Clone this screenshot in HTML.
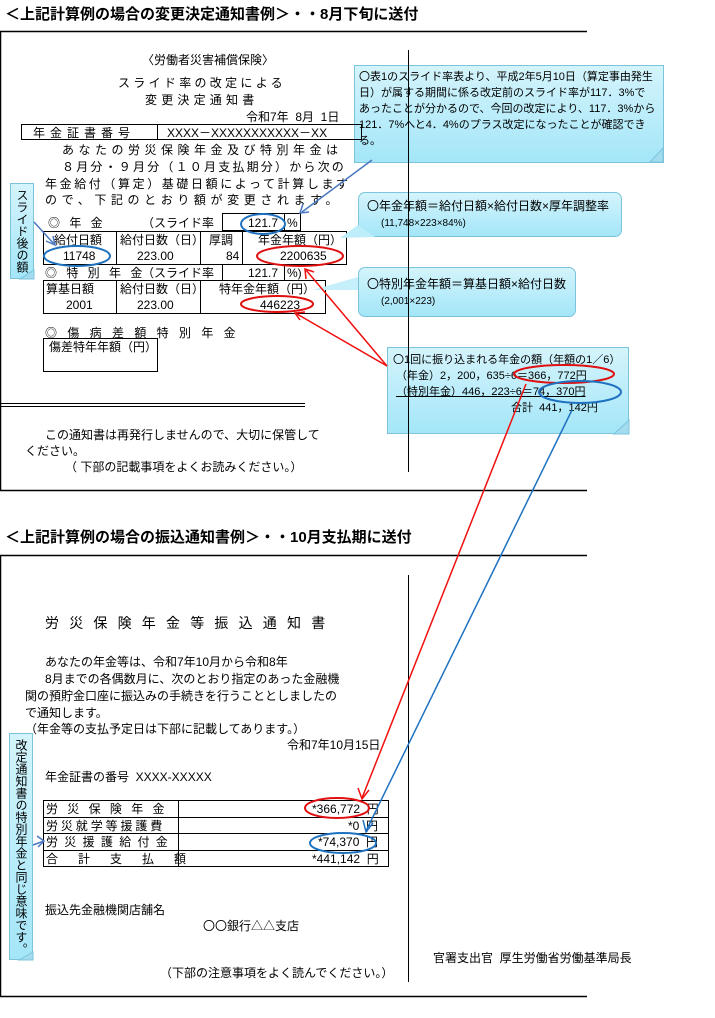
<!DOCTYPE html>
<html><head><meta charset="utf-8">
<style>
body{margin:0;width:715px;height:1018px;position:relative;background:#fff;font-family:"Liberation Sans","Noto Sans CJK JP",sans-serif;color:#000;overflow:hidden}
.t{position:absolute;white-space:nowrap;font-size:12px;line-height:14px}
.b{font-weight:bold;font-size:15px;line-height:18px}
.box{position:absolute;border:1px solid #000;box-sizing:border-box}
.co{position:absolute;box-sizing:border-box;border:1px solid #7cc4dc;background:linear-gradient(#d4f4fc,#a4e6f8);font-size:11px;line-height:16px;padding:2px 4px;white-space:nowrap}
.vt{writing-mode:vertical-rl;font-size:12px;line-height:18px;letter-spacing:0;text-align:center}
svg{position:absolute;left:0;top:0}
</style></head><body>
<svg width="715" height="1018" style="z-index:1">
<g stroke="#000" stroke-width="1.5" fill="none">
<line x1="0" y1="31.5" x2="587" y2="31.5"/>
<line x1="0.5" y1="31" x2="0.5" y2="491"/>
<line x1="0" y1="490.5" x2="587" y2="490.5"/>
<line x1="408.5" y1="50" x2="408.5" y2="472" stroke-width="1"/>
<line x1="0" y1="403.5" x2="305" y2="403.5" stroke-width="1"/>
<line x1="0" y1="406.5" x2="305" y2="406.5" stroke-width="1"/>
<line x1="0" y1="555.5" x2="587" y2="555.5"/>
<line x1="0.5" y1="555" x2="0.5" y2="997"/>
<line x1="0" y1="996.5" x2="587" y2="996.5"/>
<line x1="408.5" y1="575" x2="408.5" y2="982" stroke-width="1"/>
</g>
<g stroke="#000" stroke-width="1" fill="none">
<rect x="21.5" y="124.5" width="340" height="15"/>
<line x1="157.5" y1="124" x2="157.5" y2="140"/>
<rect x="222.5" y="213.5" width="78" height="17"/>
<line x1="284.5" y1="213" x2="284.5" y2="231"/>
<rect x="43.5" y="231.5" width="303" height="33"/>
<line x1="116.5" y1="231" x2="116.5" y2="265"/>
<line x1="200.5" y1="231" x2="200.5" y2="265"/>
<line x1="242.5" y1="231" x2="242.5" y2="265"/>
<line x1="222.5" y1="265" x2="222.5" y2="281"/>
<line x1="284.5" y1="265" x2="284.5" y2="281"/>
<rect x="43.5" y="280.5" width="282" height="33"/>
<line x1="116.5" y1="280" x2="116.5" y2="314"/>
<line x1="200.5" y1="280" x2="200.5" y2="314"/>
<rect x="43.5" y="338.5" width="114" height="33"/>
<rect x="43.5" y="800.5" width="345" height="66"/>
<line x1="43" y1="817.5" x2="388" y2="817.5"/>
<line x1="43" y1="833.5" x2="388" y2="833.5"/>
<line x1="43" y1="850.5" x2="388" y2="850.5"/>
<line x1="178.5" y1="800" x2="178.5" y2="866"/>
</g>
</svg>

<div class="t b" style="left:5px;top:6px">＜上記計算例の場合の変更決定通知書例＞・・8月下旬に送付</div>
<div class="t" style="left:142px;top:53px">〈労働者災害補償保険〉</div>
<div class="t" style="left:118px;top:76px;letter-spacing:3.3px">スライド率の改定による</div>
<div class="t" style="left:145px;top:93px;letter-spacing:4.2px">変更決定通知書</div>
<div class="t" style="left:246px;top:110px">令和7年&nbsp; 8月&nbsp; 1日</div>
<div class="t" style="left:33px;top:126px;letter-spacing:5px">年金証書番号</div>
<div class="t" style="left:167px;top:126px">XXXX－XXXXXXXXXXX－XX</div>
<div class="t" style="left:62px;top:143px;letter-spacing:4.5px">あなたの労災保険年金及び特別年金は</div>
<div class="t" style="left:62px;top:160px;letter-spacing:2.2px">８月分・９月分（１０月支払期分）から次の</div>
<div class="t" style="left:45px;top:177px;letter-spacing:2.6px">年金給付（算定）基礎日額によって計算します</div>
<div class="t" style="left:45px;top:193px;letter-spacing:4.6px">ので、下記のとおり額が変更されます。</div>
<div class="t" style="left:48px;top:216px;letter-spacing:3px">◎ 年 金</div>
<div class="t" style="left:142px;top:216px">（スライド率</div>
<div class="t" style="left:248px;top:216px">121.7</div>
<div class="t" style="left:287px;top:216px">%</div>
<div class="t" style="left:54px;top:233px">給付日額</div>
<div class="t" style="left:120px;top:233px">給付日数（日）</div>
<div class="t" style="left:209px;top:233px">厚調</div>
<div class="t" style="left:258px;top:233px">年金年額（円）</div>
<div class="t" style="left:63px;top:249px">11748</div>
<div class="t" style="left:137px;top:249px">223.00</div>
<div class="t" style="left:226px;top:249px">84</div>
<div class="t" style="left:280px;top:249px">2200635</div>
<div class="t" style="left:45px;top:266px;letter-spacing:3px">◎ 特 別 年 金</div>
<div class="t" style="left:142px;top:266px">（スライド率</div>
<div class="t" style="left:248px;top:266px">121.7</div>
<div class="t" style="left:287px;top:266px">%)</div>
<div class="t" style="left:46px;top:282px">算基日額</div>
<div class="t" style="left:120px;top:282px">給付日数（日）</div>
<div class="t" style="left:219px;top:282px">特年金年額（円）</div>
<div class="t" style="left:66px;top:298px">2001</div>
<div class="t" style="left:137px;top:298px">223.00</div>
<div class="t" style="left:260px;top:298px">446223</div>
<div class="t" style="left:45px;top:326px;letter-spacing:3.5px">◎ 傷 病 差 額 特 別 年 金</div>
<div class="t" style="left:49px;top:340px">傷差特年年額（円）</div>
<div class="t" style="left:45px;top:428px">この通知書は再発行しませんので、大切に保管して</div>
<div class="t" style="left:25px;top:444px">ください。</div>
<div class="t" style="left:65px;top:460px">（ 下部の記載事項をよくお読みください。）</div>

<div class="t b" style="left:5px;top:529px">＜上記計算例の場合の振込通知書例＞・・10月支払期に送付</div>
<div class="t" style="left:45px;top:615px;font-size:14px;line-height:16px;letter-spacing:10.2px">労災保険年金等振込通知書</div>
<div class="t" style="left:45px;top:655px">あなたの年金等は、令和7年10月から令和8年</div>
<div class="t" style="left:45px;top:672px">8月までの各偶数月に、次のとおり指定のあった金融機</div>
<div class="t" style="left:25px;top:689px">関の預貯金口座に振込みの手続きを行うこととしましたの</div>
<div class="t" style="left:25px;top:706px">で通知します。</div>
<div class="t" style="left:25px;top:722px">（年金等の支払予定日は下部に記載してあります。）</div>
<div class="t" style="left:287px;top:738px">令和7年10月15日</div>
<div class="t" style="left:45px;top:770px">年金証書の番号&nbsp; XXXX-XXXXX</div>
<div class="t" style="left:46px;top:802px;letter-spacing:9.3px">労災保険年金</div>
<div class="t" style="left:46px;top:819px;letter-spacing:2.9px">労災就学等援護費</div>
<div class="t" style="left:46px;top:835px;letter-spacing:6.3px">労災援護給付金</div>
<div class="t" style="left:46px;top:852px;letter-spacing:20px">合計支払額</div>
<div class="t" style="left:312px;top:802px">*366,772&nbsp; 円</div>
<div class="t" style="left:348px;top:819px">*0&nbsp; 円</div>
<div class="t" style="left:318px;top:835px">*74,370&nbsp; 円</div>
<div class="t" style="left:312px;top:852px">*441,142&nbsp; 円</div>
<div class="t" style="left:45px;top:903px">振込先金融機関店舗名</div>
<div class="t" style="left:203px;top:919px">〇〇銀行△△支店</div>
<div class="t" style="left:160px;top:966px">（下部の注意事項をよく読んでください。）</div>
<div class="t" style="left:433px;top:951px">官署支出官&nbsp; 厚生労働省労働基準局長</div>

<div class="co vt" style="left:10px;top:183px;width:24px;height:96px;padding:3px 0;line-height:22px;font-size:12px">スライド後の額</div>
<div class="co vt" style="left:9px;top:733px;width:24px;height:227px;padding:4px 0;line-height:22px">改定通知書の特別年金と同じ意味です。</div>
<div class="co" style="left:354px;top:65px;width:310px;height:98px;line-height:16px;padding:3px 4px">〇表1のスライド率表より、平成2年5月10日（算定事由発生<br>日）が属する期間に係る改定前のスライド率が117．3%で<br>あったことが分かるので、今回の改定により、117．3%から<br>121．7%へと4．4%のプラス改定になったことが確認でき<br>る。</div>
<div class="co" style="left:358px;top:192px;width:264px;height:45px;border-radius:7px;padding:5px 8px;font-size:12px">〇年金年額＝給付日額×給付日数×厚年調整率<br><span style="font-size:10px;padding-left:14px">(11,748×223×84%)</span></div>
<div class="co" style="left:358px;top:267px;width:218px;height:50px;border-radius:7px;padding:8px 8px;font-size:12px">〇特別年金年額＝算基日額×給付日数<br><span style="font-size:10px;padding-left:14px">(2,001×223)</span></div>
<div class="co" style="left:387px;top:347px;width:242px;height:87px;padding:4px 5px;line-height:16px">〇1回に振り込まれる年金の額（年額の1／6）<br>&nbsp;（年金）2，200，635÷6＝366，772円<br>&nbsp;<u>（特別年金）446，223÷6＝74，370円</u><br><span style="padding-left:118px">合計&nbsp; 441，142円</span></div>

<svg width="715" height="1018" style="z-index:2">
<g fill="#a3dcef" stroke="#7cc4dc">
<polygon points="650,162 663,148 663,162" />
<polygon points="614,434 629,420 629,434"/>
<polygon points="20,279 34,279 34,270"/>
<polygon points="19,960 33,960 33,952"/>
<polygon points="375,237 340,238 358,225" stroke="none" fill="#bdeefa"/>
<polygon points="358,277 313,290 358,290" stroke="none" fill="#c4effb"/>
</g>
<g fill="none" stroke-width="2">
<ellipse cx="263" cy="224" rx="22" ry="10" stroke="#1f72c0"/>
<ellipse cx="77" cy="256" rx="33" ry="10" stroke="#1f72c0"/>
<ellipse cx="300" cy="256" rx="43" ry="10" stroke="#e01010"/>
<ellipse cx="277" cy="304" rx="36" ry="8" stroke="#e01010"/>
<ellipse cx="564" cy="374" rx="50" ry="9" stroke="#e01010"/>
<ellipse cx="580" cy="392" rx="41" ry="11" stroke="#1f72c0"/>
<ellipse cx="337" cy="808" rx="32" ry="10" stroke="#e01010"/>
<ellipse cx="343" cy="843" rx="33" ry="10" stroke="#1f72c0"/>
</g>
<g fill="none" stroke-width="1.5">
<line x1="372" y1="160" x2="302" y2="212" stroke="#4a78c0"/>
<polyline points="303,204 300,213 309,212" stroke="#4a78c0"/>
<line x1="34" y1="222" x2="54" y2="244" stroke="#4a78c0"/>
<polyline points="46,241 55,245 53,236" stroke="#4a78c0"/>
<line x1="387" y1="366" x2="306" y2="270" stroke="#f01010"/>
<polyline points="306,279 305,269 314,272" stroke="#f01010"/>
<line x1="387" y1="366" x2="297" y2="314" stroke="#f01010"/>
<polyline points="300,320 295,313 305,312" stroke="#f01010"/>
<line x1="526" y1="384" x2="362" y2="798" stroke="#f01010"/>
<polyline points="358,788 362,799 369,790" stroke="#f01010"/>
<line x1="572" y1="410" x2="366" y2="831" stroke="#1f72c0"/>
<polyline points="363,820 366,832 373,823" stroke="#1f72c0"/>
<line x1="33" y1="845" x2="44" y2="841" stroke="#4a78c0"/>
<polyline points="37,836 44,841 38,847" stroke="#4a78c0"/>
</g>
</svg>
</body></html>
